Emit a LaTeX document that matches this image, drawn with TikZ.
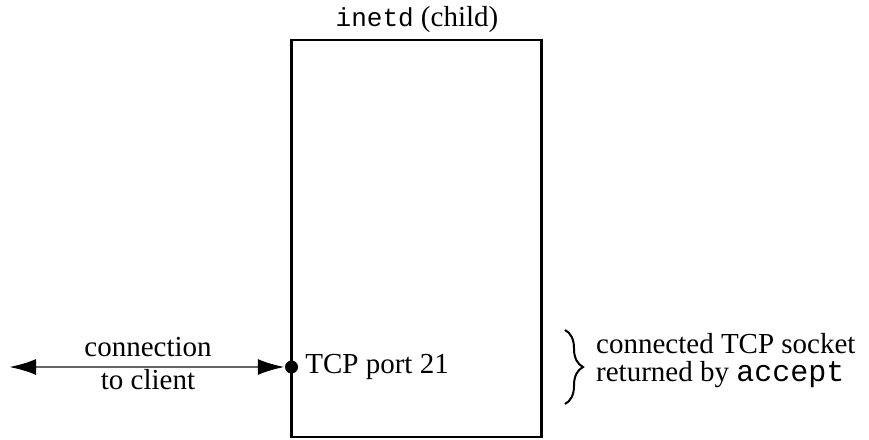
\documentclass[tikz,border=0pt]{standalone}
\usepackage{fontspec}
\setmainfont{Liberation Serif}
\setmonofont{Liberation Mono}
\usetikzlibrary{arrows.meta, positioning, decorations.pathreplacing}

\begin{document}
\begin{tikzpicture}[
  x=1pt, y=-1pt,
  every node/.style={font=\fontsize{29}{33}\selectfont, inner sep=0pt},
  proc/.style={draw, line width=2.2pt, minimum width=250pt, minimum height=397pt},
  port/.style={circle, fill, minimum size=13pt},
  link/.style={{Latex[length=27pt,width=16pt,color=black]}-{Latex[length=27pt,width=16pt,color=black]},
    line width=2.6pt, black!60},
  brc/.style={decorate, decoration={brace, amplitude=18pt}, line width=2pt},
]
  \useasboundingbox (0,0) rectangle (869,439);

  \node (child) [proc] at (416.5,238.5) {};
  \node (title) [anchor=base] at (417,27)
    {{\fontsize{26}{30}\selectfont\ttfamily inetd} (child)};

  \node (dot) [port] at (291.5,367) {};
  \coordinate (client) at (9,367);
  \node (portlbl) [right=7pt of dot] {TCP port 21};

  \draw[link] (client) -- (dot.west);
  \node (conn) [anchor=base] at (148,356) {connection};
  \node (tocl) [anchor=base] at (148,389) {to client};

  % socket returned by accept
  \coordinate (bt) at (565,330);
  \coordinate (bb) at (565,404);
  \draw[brc] (bt) -- (bb);
  \node (sock1) [anchor=base west] at (596,353) {connected TCP socket};
  \node (sock2) [anchor=base west] at (596,381)
    {returned by {\fontsize{30}{34}\selectfont\ttfamily accept}};
\end{tikzpicture}
\end{document}
